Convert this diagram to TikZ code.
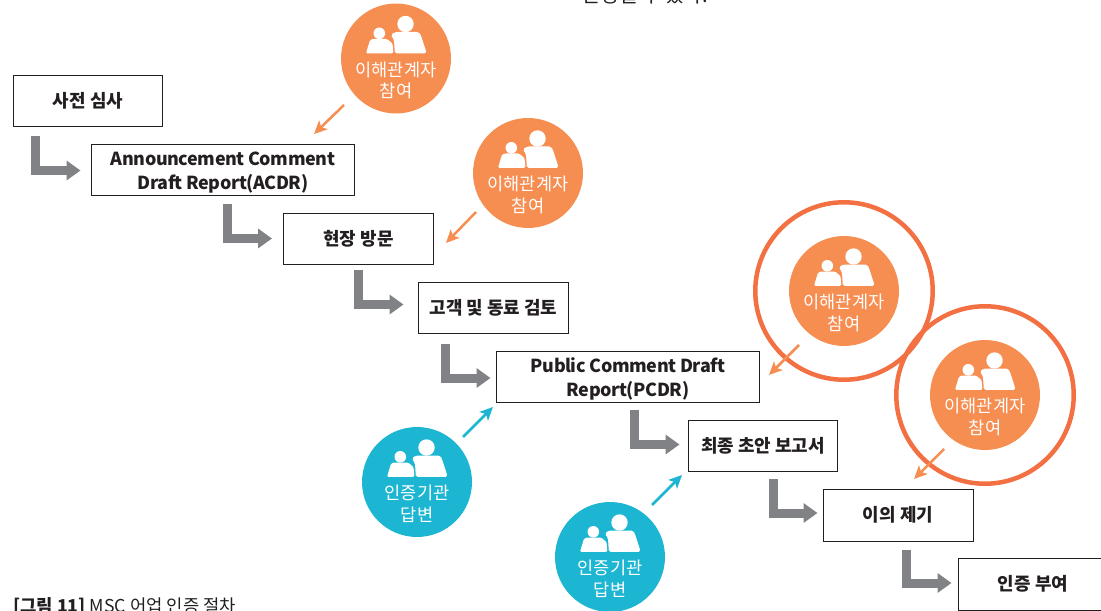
\documentclass[tikz,border=0pt]{standalone}
\usepackage{fontspec}
\usepackage{tikz}
\usepackage{color}
\usetikzlibrary{arrows.meta,calc}
\setmainfont{Noto Sans CJK KR}
\definecolor{stakeorange}{HTML}{F68D51}
\definecolor{ringorange}{HTML}{F37043}
\definecolor{bodyblue}{HTML}{1CB5D2}
\definecolor{flowgray}{HTML}{808285}
\definecolor{inkblack}{HTML}{231F20}
\newcommand{\wideline}{\rule{0pt}{11pt}}
\tikzset{
  stepbox/.style={draw=inkblack, line width=0.2mm, fill=white, inner sep=0pt, minimum width=30mm, minimum height=10.4mm, align=center, font=\fontsize{10.2pt}{13.6pt}\selectfont\bfseries, text=inkblack},
  widebox/.style={stepbox, minimum width=52.8mm, font=\fontsize{10.2pt}{13.6pt}\selectfont\bfseries\addfontfeature{LetterSpace=-2.2}},
  flow/.style={flowgray, line width=1.8mm, -{Triangle[width=3.8mm,length=2.8mm]}},
  stake/.style={circle, fill=stakeorange, inner sep=0pt, minimum size=22mm},
  body/.style={circle, fill=bodyblue, inner sep=0pt, minimum size=22mm},
  ring/.style={circle, draw=ringorange, line width=0.9mm, inner sep=0pt, minimum size=35.5mm},
  circletext/.style={text=white, align=center, inner sep=0pt, font=\fontsize{10pt}{12.3pt}\selectfont},
  stakelink/.style={stakeorange, line width=0.5mm, -{Stealth[length=2.6mm,width=2.4mm,inset=0.6mm]}},
  bodylink/.style={stakelink, bodyblue},
  people/.pic={
    \fill[white] (9.5,-34.5) circle (8.2);
    \fill[white] (-16.7,-25.2) circle (5.8);
    \fill[white, rounded corners=1pt] (-5.3,-23.5) -- (-1,-26.5) -- (23,-26.5) -- (25,-23) -- (30.7,-5.2) -- (-1.2,-5.2) -- (-2,-19) -- cycle;
    \fill[white, rounded corners=0.7pt] (-30,-5.2) -- (-26,-18.5) -- (-23,-19.5) -- (-9,-19.5) -- (-3.5,-15) -- (-2.6,-5.2) -- cycle;
  }
}
\begin{document}
\begin{tikzpicture}[x=0.02cm,y=-0.02cm]
\useasboundingbox (0,0) rectangle (1101,611);
\clip (0,0) rectangle (1101,611);

% boxes
\node[stepbox] (b1) at (88,101) {사전 심사};
\node[widebox] (b2) at (223,170) {\wideline Announcement Comment\\Draft Report(ACDR)};
\node[stepbox] (b3) at (358.5,239) {현장 방문};
\node[stepbox] (b4) at (493.5,308) {고객 및 동료 검토};
\node[widebox] (b5) at (628,377) {\wideline Public Comment Draft\\Report(PCDR)};
\node[stepbox] (b6) at (763,446) {최종 초안 보고서};
\node[stepbox] (b7) at (898,515) {이의 제기};
\node[stepbox] (b8) at (1033,584) {인증 부여};

% gray arrows between the boxes
\draw[flow] ($(b1.south -| b2.west)+(-55.5,9)$) |- ($(b2.west)+(-10,0.5)$);
\draw[flow] ($(b2.south -| b3.west)+(-56,8)$) |- ($(b3.west)+(-11,-0.5)$);
\draw[flow] ($(b3.south -| b4.west)+(-60,5)$) |- ($(b4.west)+(-14.5,-3.5)$);
\draw[flow] ($(b4.south -| b5.west)+(-50.5,10)$) |- ($(b5.west)+(-5,1)$);
\draw[flow] ($(b5.south -| b6.west)+(-53.5,7)$) |- ($(b6.west)+(-8,-1.5)$);
\draw[flow] ($(b6.south -| b7.west)+(-49.5,7)$) |- ($(b7.west)+(-5,-2)$);
\draw[flow] ($(b7.south -| b8.west)+(-51.5,8)$) |- ($(b8.west)+(-6,-1)$);

% circles
\node[stake] (s1) at (396,58.5) {};
\node[stake] (s2) at (528,173) {};
\node[ring] (r3) at (844,291) {};
\node[stake] (s3) at (844,291) {};
\node[ring] (r4) at (985,395) {};
\node[stake] (s4) at (985,395) {};
\node[body] (a1) at (417,482) {};
\node[body] (a2) at (610,557) {};

\pic at (s1) {people};
\pic at (s2) {people};
\pic at (s3) {people};
\pic at (s4) {people};
\pic at (a1) {people};
\pic at (a2) {people};

\node[circletext] (s1t) at ([yshift=-4.4mm]s1.center) {이해관계자\\참여};
\node[circletext] (s2t) at ([yshift=-4.4mm]s2.center) {이해관계자\\참여};
\node[circletext] (s3t) at ([yshift=-4.4mm]s3.center) {이해관계자\\참여};
\node[circletext] (s4t) at ([yshift=-4.4mm]s4.center) {이해관계자\\참여};
\node[circletext] (a1t) at ([yshift=-4.4mm]a1.center) {인증기관\\답변};
\node[circletext] (a2t) at ([yshift=-4.4mm]a2.center) {인증기관\\답변};

% thin arrows
\coordinate (t1) at (314,134);
\coordinate (t2) at (446,243);
\coordinate (t3) at (769,375);
\coordinate (t4) at (914,479);
\coordinate (t5) at (493,407);
\coordinate (t6) at (682,475);
\draw[stakelink] ($(s1.center)+(-52,46.5)$) -- (t1);
\draw[stakelink] ($(s2.center)+(-52,39)$) -- (t2);
\draw[stakelink] ($(s3.center)+(-45,54)$) -- (t3);
\draw[stakelink] ($(s4.center)+(-41,54)$) -- (t4);
\draw[bodylink] ($(a1.center)+(46,-45)$) -- (t5);
\draw[bodylink] ($(a2.center)+(42,-52)$) -- (t6);

% text at the edges of the page
\node[text=inkblack, font=\fontsize{11.5pt}{14pt}\selectfont] (toptext) at (645,-5) {인정될 수 있다.};
\node[anchor=west, inner sep=0pt, text=inkblack, font=\fontsize{10.1pt}{12pt}\selectfont] (caption) at (13,607) {\textbf{[그림 11]} MSC 어업 인증 절차};

\end{tikzpicture}
\end{document}
